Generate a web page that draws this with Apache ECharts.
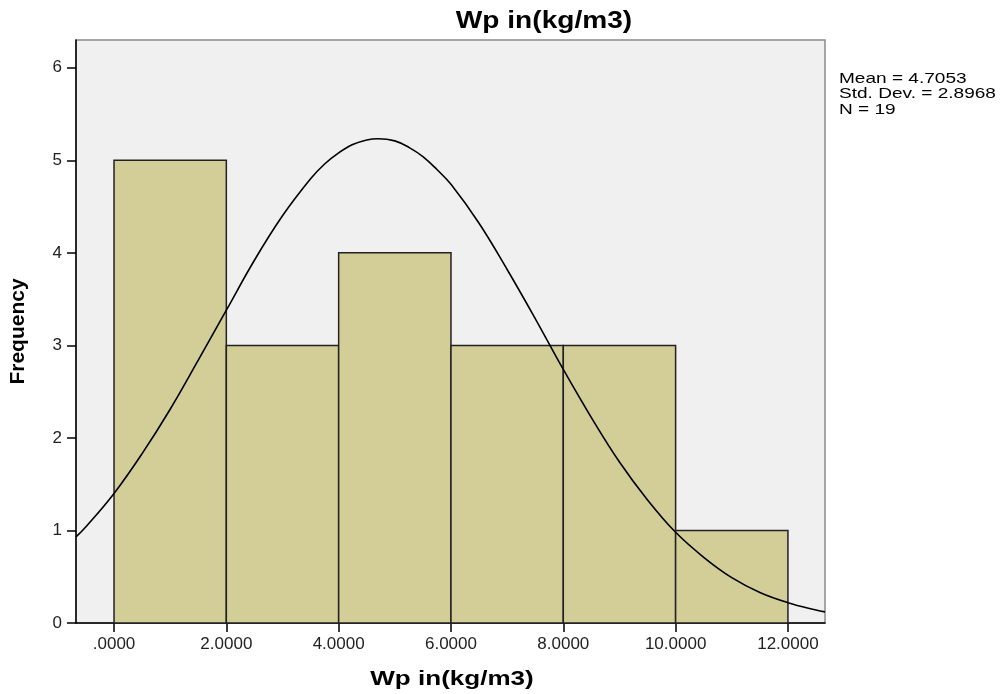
<!DOCTYPE html>
<html><head><meta charset="utf-8">
<script src="https://cdn.jsdelivr.net/npm/echarts@6/dist/echarts.min.js"></script>
<style>html,body{margin:0;padding:0;background:#fff}#c{width:1001px;height:694px}</style>
</head><body><div id="c"></div>
<script>
// Histogram bins: [start, end, frequency]
const binStarts = [0, 2, 4, 6, 8, 10];
const binEnds = [2, 4, 6, 8, 10, 12];
const frequencies = [5, 3, 4, 3, 3, 1];
// Normal curve
const curveX = [-0.677, -0.5, 0, 0.5, 1, 1.5, 2, 2.5, 3, 3.5, 3.75, 4, 4.25, 4.5, 4.7053, 5, 5.25, 5.5, 5.75, 6, 6.5, 7, 7.5, 8, 8.5, 9, 9.5, 10, 10.5, 11, 11.5, 12, 12.5, 12.66];
const curveY = [0.93, 1.04, 1.40, 1.83, 2.31, 2.84, 3.38, 3.92, 4.40, 4.80, 4.96, 5.08, 5.17, 5.22, 5.233, 5.21, 5.14, 5.04, 4.90, 4.74, 4.32, 3.82, 3.29, 2.74, 2.22, 1.74, 1.33, 0.98, 0.71, 0.49, 0.33, 0.22, 0.14, 0.12];
const xTicks = [0, 2, 4, 6, 8, 10, 12];
const xTickLabels = ['.0000', '2.0000', '4.0000', '6.0000', '8.0000', '10.0000', '12.0000'];
const yTicks = [0, 1, 2, 3, 4, 5, 6];
const statsLines = ['Mean = 4.7053', 'Std. Dev. = 2.8968', 'N = 19'];
const titleText = 'Wp in(kg/m3)';
const xName = 'Wp in(kg/m3)';
const yName = 'Frequency';

const font = '"Liberation Sans", Arial, sans-serif';
const chart = echarts.init(document.getElementById('c'), null, {renderer: 'canvas'});
const barData = binStarts.map((s, i) => [s, binEnds[i], frequencies[i]]);
const curveData = curveX.map((x, i) => [x, curveY[i]]);

chart.setOption({
  animation: false,
  backgroundColor: '#ffffff',
  graphic: [{
    type: 'text', x: 544, y: 21, scaleX: 1.17,
    style: {text: titleText, font: 'bold 24px ' + font, fill: '#000', align: 'center', verticalAlign: 'middle'}
  }, {
    type: 'text', x: 452, y: 679, scaleX: 1.24,
    style: {text: xName, font: 'bold 21px ' + font, fill: '#000', align: 'center', verticalAlign: 'middle'}
  }, {
    type: 'text', x: 839, y: 71, scaleX: 1.27,
    style: {text: statsLines.join('\n'), font: '15px ' + font, lineHeight: 15.5, fill: '#000', align: 'left', verticalAlign: 'top'}
  }],
  grid: {
    left: 76, right: 176, top: 40, bottom: 71,
    outerBoundsMode: 'none',
    show: true, backgroundColor: '#f0f0f0', borderColor: '#8a8a8a', borderWidth: 1.5
  },
  xAxis: {
    type: 'value', min: -0.677, max: 12.66,
    axisLine: {show: true, onZero: false, lineStyle: {color: '#000', width: 1.5}},
    axisTick: {show: true, inside: false, length: 9, customValues: xTicks, lineStyle: {color: '#000', width: 1.5}},
    axisLabel: {
      customValues: xTicks, margin: 13,
      formatter: v => xTickLabels[xTicks.indexOf(Math.round(v))],
      fontFamily: font, fontSize: 17, color: '#222'
    },
    splitLine: {show: false}
  },
  yAxis: {
    type: 'value', min: 0, max: 6.3,
    name: yName, nameLocation: 'middle', nameGap: 47, nameRotate: 90,
    nameTextStyle: {fontFamily: font, fontSize: 21, fontWeight: 'bold', color: '#000'},
    axisLine: {show: true, onZero: false, lineStyle: {color: '#000', width: 1.5}},
    axisTick: {show: true, inside: false, length: 9, customValues: yTicks, lineStyle: {color: '#000', width: 1.5}},
    axisLabel: {customValues: yTicks, margin: 14, fontFamily: font, fontSize: 17, color: '#222'},
    splitLine: {show: false}
  },
  series: [{
    type: 'custom',
    data: barData,
    encode: {x: [0, 1], y: 2},
    renderItem: function (params, api) {
      const p0 = api.coord([api.value(0), api.value(2)]);
      const p1 = api.coord([api.value(1), 0]);
      return {
        type: 'rect',
        shape: {x: p0[0], y: p0[1], width: p1[0] - p0[0], height: p1[1] - p0[1]},
        style: {fill: '#d3cd98', stroke: '#222', lineWidth: 1.5}
      };
    },
    z: 2
  }, {
    type: 'line',
    data: curveData,
    smooth: 0.4,
    showSymbol: false,
    lineStyle: {color: '#000', width: 1.6},
    z: 3
  }]
});
</script>
</body></html>
